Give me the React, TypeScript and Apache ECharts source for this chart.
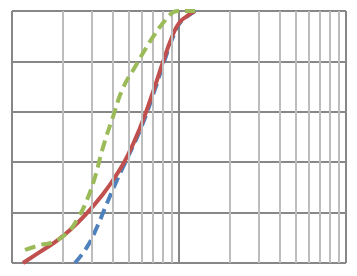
import React, { useEffect, useRef } from "react";
import * as echarts from "echarts";

// x values (log scale, 1..100), y values (0..100)
const redX = [1.164, 1.472, 1.809, 2.225, 2.81, 3.51, 4.14, 4.88, 5.84, 6.99, 8.02, 9.08, 10.0, 11.17, 12.47];
const redY = [0, 4.4, 8.3, 13.1, 19.8, 27.4, 34.1, 42.1, 53.6, 67.9, 79.8, 89.7, 95.2, 98.0, 100];

const blueX = [2.38, 2.81, 3.23, 3.71, 4.25, 4.75, 5.92, 7.09, 8.13, 9.2, 10.1, 11.3, 12.47];
const blueY = [0, 6.3, 14.3, 23.8, 32.9, 39.7, 53.6, 67.9, 79.8, 89.7, 95.2, 98.0, 100];

const greenX = [1.196, 1.472, 1.76, 2.164, 2.485, 2.81, 3.14, 3.51, 4.02, 4.62, 5.45, 6.09, 6.99, 8.02, 9.08, 9.86, 12.5];
const greenY = [5.2, 7.1, 8.3, 12.3, 17.9, 25, 34.1, 46.0, 57.9, 69.4, 77.8, 83.3, 89.7, 95.2, 99.2, 100, 100];

const minorTicks = [2, 3, 4, 5, 6, 7, 8, 9, 20, 30, 40, 50, 60, 70, 80, 90];

const zip = (xs: number[], ys: number[]) => xs.map((x, i) => [x, ys[i]]);

export default function App() {
  const ref = useRef<HTMLDivElement>(null);
  useEffect(() => {
    if (!ref.current) return;
    const chart = echarts.init(ref.current, null, { renderer: "svg" });
    const dash = { type: [11, 6] as any };
    chart.setOption({
      animation: false,
      grid: { left: 12, top: 11, right: 11, bottom: 13, containLabel: false },
      xAxis: {
        type: "log",
        logBase: 10,
        min: 1,
        max: 100,
        axisLabel: { show: false },
        axisTick: { show: false },
        axisLine: { show: false },
        splitLine: { show: true, lineStyle: { color: "#878787", width: 2 } },
      },
      yAxis: {
        type: "value",
        min: 0,
        max: 100,
        interval: 20,
        axisLabel: { show: false },
        axisTick: { show: false },
        axisLine: { show: false },
        splitLine: { show: true, lineStyle: { color: "#878787", width: 2 } },
      },
      series: [
        {
          type: "line",
          data: [],
          silent: true,
          z: 1,
          markLine: {
            silent: true,
            symbol: "none",
            label: { show: false },
            lineStyle: { color: "#bdbdbd", width: 2, type: "solid" },
            data: minorTicks.map((v) => ({ xAxis: v })),
          },
        },
        {
          type: "line",
          data: zip(blueX, blueY),
          showSymbol: false,
          smooth: 0.5,
          z: 3,
          lineStyle: { color: "#4F81BD", width: 4, ...dash },
        },
        {
          type: "line",
          data: zip(redX, redY),
          showSymbol: false,
          smooth: 0.5,
          z: 4,
          lineStyle: { color: "#C0504D", width: 4 },
        },
        {
          type: "line",
          data: zip(greenX, greenY),
          showSymbol: false,
          smooth: 0.5,
          z: 5,
          lineStyle: { color: "#9BBB59", width: 4, ...dash },
        },
      ],
    });
    return () => chart.dispose();
  }, []);
  return (
    <div
      ref={ref}
      style={{ position: "fixed", left: 0, top: 0, width: 357, height: 276, background: "#fff" }}
    />
  );
}
